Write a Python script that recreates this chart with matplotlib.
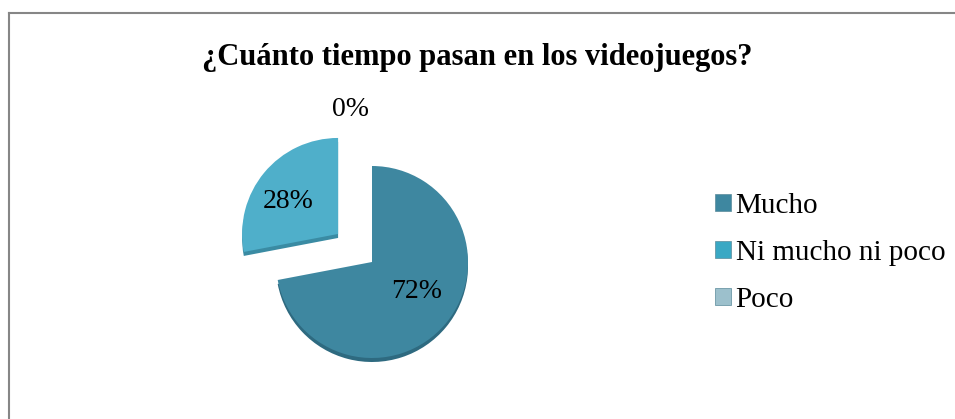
import matplotlib.pyplot as plt
from matplotlib.patches import Patch
from matplotlib.lines import Line2D

# Data
categories = ['Mucho', 'Ni mucho ni poco', 'Poco']
values = [72, 0, 28]
slice_colors = ['#3E87A0', '#3AA8C4', '#4FAFCA']
side_colors = ['#2E6A80', '#2B8199', '#3A8BA3']
legend_colors = ['#3E87A0', '#3AA8C4', '#9CC0CC']
explode = [0, 0, 44]

plt.rcParams['font.family'] = ['Liberation Serif', 'DejaVu Serif']

fig = plt.figure(figsize=(9.55, 4.19), dpi=100)
ax = fig.add_axes([0, 0, 1, 1])

# darker copy underneath for the 3D edge
ax.pie(values, colors=side_colors, explode=explode, startangle=90,
       counterclock=False, radius=96, center=(372, 153), frame=True)

wedges, texts, autotexts = ax.pie(
    values, colors=slice_colors, explode=explode, startangle=90,
    counterclock=False, radius=96, center=(372, 157), frame=True,
    autopct=lambda p: '%.0f%%' % p, pctdistance=0.55,
    textprops={'fontsize': 20, 'color': 'black'})

# Excel put the empty slice's label above the pie
autotexts[1].set_position((350, 309))
autotexts[0].set_position((417, 128))
autotexts[2].set_position((288, 217))

ax.set_xlim(0, 955)
ax.set_ylim(0, 419)
ax.axis('off')

fig.text(0.5, 1 - 57 / 419, '¿Cuánto tiempo pasan en los videojuegos?',
         ha='center', va='center', fontsize=22, fontweight='bold')

handles = [Patch(facecolor=c, edgecolor='#5A8A9A', linewidth=0.5) for c in legend_colors]
fig.legend(handles, categories, loc='center left',
           bbox_to_anchor=(689 / 955, 1 - 253 / 419), frameon=False,
           fontsize=21, handlelength=0.55, handleheight=0.55,
           handletextpad=0.15, labelspacing=0.72)

# chart border (top and left visible)
fig.add_artist(Line2D([9 / 955, 1], [1 - 13.5 / 419, 1 - 13.5 / 419],
                      color='#868686', linewidth=1.5))
fig.add_artist(Line2D([9 / 955, 9 / 955], [0, 1 - 13.5 / 419],
                      color='#868686', linewidth=1.5))

fig.savefig('out.png', dpi=100)
